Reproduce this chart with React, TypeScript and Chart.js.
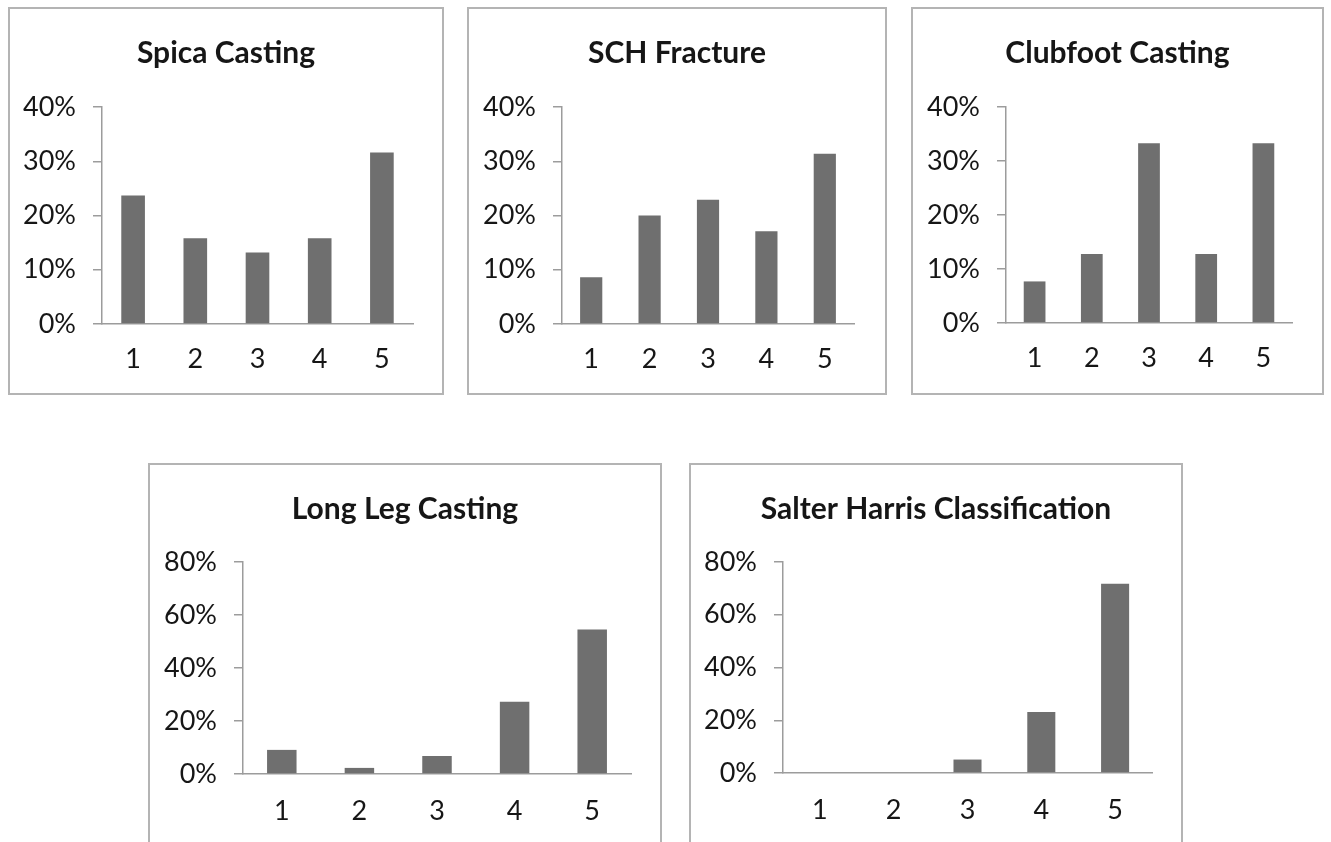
import React, { useEffect, useRef } from "react";
import { Chart, registerables } from "chart.js";

Chart.register(...registerables);

// Response categories shared by every panel
const categories = ["1", "2", "3", "4", "5"];

// Share of responses per category (%)
const spicaCasting = [23.7, 15.8, 13.2, 15.8, 31.6];
const schFracture = [8.6, 20.0, 22.9, 17.1, 31.4];
const clubfootCasting = [7.7, 12.8, 33.3, 12.8, 33.3];
const longLegCasting = [9.1, 2.3, 6.8, 27.3, 54.5];
const salterHarris = [0, 0, 5.1, 23.1, 71.8];

// Panel titles
const titles = [
  "Spica Casting",
  "SCH Fracture",
  "Clubfoot Casting",
  "Long Leg Casting",
  "Salter Harris Classification",
];

// Value axis ranges (max, step) for the two rows
const topRowAxis = [40, 10];
const bottomRowAxis = [80, 20];

type PanelProps = {
  title: string;
  values: number[];
  axis: number[];
  left: number;
  top: number;
  width: number;
  height: number;
  plotLeft: number;
  plotRight: number;
  plotTop: number;
  plotBottom: number;
  labelGap: number;
};

const AXIS_GRAY = "#9c9c9c";
const TEXT = "#161616";
const FONT = "Lato";
const TICK_SIZE = 27;

function Panel(p: PanelProps) {
  const ref = useRef<HTMLCanvasElement | null>(null);

  useEffect(() => {
    if (!ref.current) return;
    const titleSize = 30;
    const titleLine = titleSize * 1.2;
    const titlePadTop = 28;
    const titlePadBottom = p.plotTop - titlePadTop - titleLine;
    const [max, step] = p.axis;

    const chart = new Chart(ref.current, {
      type: "bar",
      data: {
        labels: categories,
        datasets: [
          {
            data: p.values,
            backgroundColor: "#6f6f6f",
            borderWidth: 0,
            barPercentage: 0.38,
            categoryPercentage: 1,
          },
        ],
      },
      options: {
        responsive: false,
        animation: false,
        layout: { padding: 0 },
        plugins: {
          legend: { display: false },
          tooltip: { enabled: false },
          title: {
            display: true,
            text: p.title,
            color: TEXT,
            font: { family: FONT, size: titleSize, weight: "bold", lineHeight: 1.2 },
            padding: { top: titlePadTop, bottom: titlePadBottom },
          },
        },
        scales: {
          x: {
            grid: { display: false, drawTicks: false },
            border: { display: true, color: AXIS_GRAY, width: 1.5 },
            ticks: { color: TEXT, font: { family: FONT, size: TICK_SIZE }, padding: p.labelGap },
            afterFit: (scale: any) => {
              scale.height = p.height - p.plotBottom;
            },
          },
          y: {
            min: 0,
            max: max,
            ticks: {
              stepSize: step,
              color: TEXT,
              font: { family: FONT, size: TICK_SIZE },
              padding: 17,
              callback: (v: any) => v + "%",
            },
            grid: {
              display: true,
              drawOnChartArea: false,
              drawTicks: true,
              tickLength: 9,
              color: AXIS_GRAY,
              lineWidth: 1.5,
            },
            border: { display: true, color: AXIS_GRAY, width: 1.5 },
            afterFit: (scale: any) => {
              scale.width = p.plotLeft;
            },
          },
          // empty right-hand margin so the title stays centred on the panel
          margin: {
            type: "linear",
            position: "right",
            display: true,
            grid: { display: false },
            border: { display: false },
            ticks: { display: false },
            afterFit: (scale: any) => {
              scale.width = p.plotRight;
            },
          },
        },
      },
    });
    return () => chart.destroy();
  }, [p]);

  return (
    <>
      <div
        style={{
          position: "absolute",
          left: p.left,
          top: p.top,
          width: p.width,
          height: p.height,
          boxSizing: "border-box",
          border: "2px solid #b4b4b4",
          background: "#fff",
        }}
      />
      <canvas
        ref={ref}
        width={p.width}
        height={p.height}
        style={{
          position: "absolute",
          left: p.left,
          top: p.top,
          width: p.width,
          height: p.height,
        }}
      />
    </>
  );
}

const panels: PanelProps[] = [
  { title: titles[0], values: spicaCasting, axis: topRowAxis, left: 8, top: 7, width: 436, height: 388, plotLeft: 94, plotRight: 31, plotTop: 100, plotBottom: 317, labelGap: 19 },
  { title: titles[1], values: schFracture, axis: topRowAxis, left: 467, top: 7, width: 420, height: 388, plotLeft: 95, plotRight: 33, plotTop: 100, plotBottom: 317, labelGap: 19 },
  { title: titles[2], values: clubfootCasting, axis: topRowAxis, left: 911, top: 7, width: 413, height: 388, plotLeft: 95, plotRight: 32, plotTop: 100, plotBottom: 316, labelGap: 19 },
  { title: titles[3], values: longLegCasting, axis: bottomRowAxis, left: 148, top: 463, width: 514, height: 400, plotLeft: 95, plotRight: 31, plotTop: 99, plotBottom: 311, labelGap: 21 },
  { title: titles[4], values: salterHarris, axis: bottomRowAxis, left: 689, top: 463, width: 494, height: 400, plotLeft: 94, plotRight: 31, plotTop: 99, plotBottom: 310, labelGap: 21 },
];

export default function App() {
  return (
    <div
      style={{
        position: "fixed",
        left: 0,
        top: 0,
        width: 1331,
        height: 842,
        overflow: "hidden",
        background: "#fff",
      }}
    >
      {panels.map((p) => (
        <Panel key={p.title} {...p} />
      ))}
    </div>
  );
}
